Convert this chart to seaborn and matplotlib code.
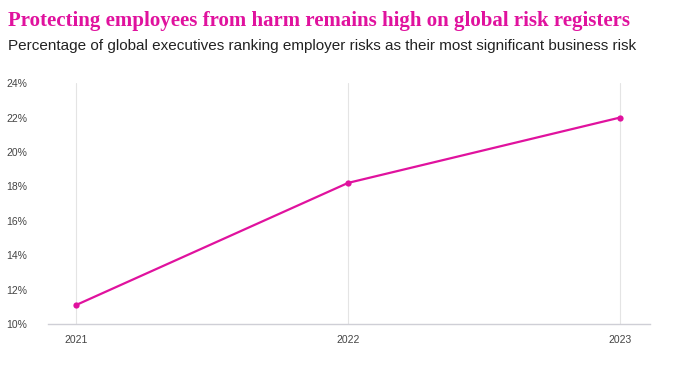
import matplotlib
matplotlib.use("Agg")
import matplotlib.pyplot as plt
import seaborn as sns
import pandas as pd
from matplotlib.ticker import FuncFormatter

# Datos
years = [2021, 2022, 2023]
pct = [11.1, 18.2, 22.0]
y_ticks = [10, 12, 14, 16, 18, 20, 22, 24]

df = pd.DataFrame({"year": years, "pct": pct})

magenta = "#E0129E"

sns.set_style("white")
plt.rcParams["font.family"] = ["Liberation Sans", "DejaVu Sans"]

fig = plt.figure(figsize=(6.87, 3.78), dpi=100)
ax = fig.add_axes([0.070, 0.143, 0.876, 0.637])

sns.lineplot(data=df, x="year", y="pct", ax=ax, color=magenta, linewidth=1.6,
             marker="o", markersize=4.5, markeredgewidth=0)

ax.set_xlim(2020.897, 2023.11)
ax.set_ylim(10, 24)
ax.set_xticks(years)
ax.set_yticks(y_ticks)
ax.yaxis.set_major_formatter(FuncFormatter(lambda v, p: f"{v:.0f}%"))

# solo lineas verticales
ax.grid(axis="x", color="#e4e4e4", linewidth=0.8)
ax.grid(axis="y", visible=False)
for s in ["top", "right", "left"]:
    ax.spines[s].set_visible(False)
ax.spines["bottom"].set_color("#cfcfd6")
ax.spines["bottom"].set_linewidth(1.0)

ax.tick_params(axis="both", length=0, labelsize=7.5, labelcolor="#444444")
ax.tick_params(axis="y", pad=15)
ax.tick_params(axis="x", pad=8)
ax.set_xlabel("")
ax.set_ylabel("")

fig.text(0.011, 0.945, "Protecting employees from harm remains high on global risk registers",
         fontsize=15.0, fontweight="bold", color=magenta, family="Liberation Serif",
         va="center", ha="left")
fig.text(0.011, 0.878, "Percentage of global executives ranking employer risks as their most significant business risk",
         fontsize=11.0, color="#222222", va="center", ha="left")

fig.savefig("out.png", dpi=100)
